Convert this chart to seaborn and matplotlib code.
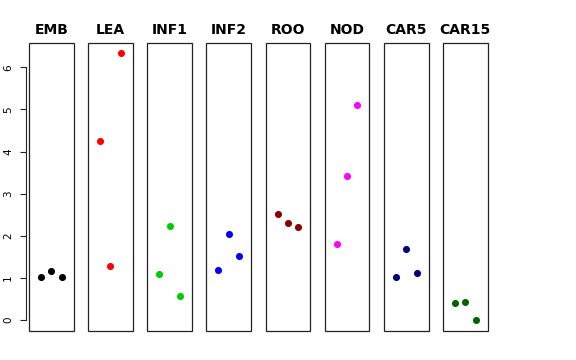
import seaborn as sns
import pandas as pd
import matplotlib
matplotlib.use("Agg")
import matplotlib.pyplot as plt
from matplotlib.patches import Rectangle

tissues = ["EMB", "LEA", "INF1", "INF2", "ROO", "NOD", "CAR5", "CAR15"]
colors = ["#000000", "#FF0000", "#00CD00", "#0000FF", "#8B0000", "#FF00FF", "#000080", "#006400"]
replicate = [1, 2, 3]
values = {
    "EMB": [1.02, 1.17, 1.03],
    "LEA": [4.24, 1.28, 6.33],
    "INF1": [1.09, 2.23, 0.56],
    "INF2": [1.18, 2.04, 1.53],
    "ROO": [2.52, 2.31, 2.22],
    "NOD": [1.80, 3.42, 5.11],
    "CAR5": [1.03, 1.69, 1.12],
    "CAR15": [0.41, 0.43, 0.0],
}

rows = []
for t in tissues:
    for r, v in zip(replicate, values[t]):
        rows.append({"tissue": t, "rep": r, "value": v})
df = pd.DataFrame(rows)

sns.set_style("white")
g = sns.FacetGrid(df, col="tissue", col_order=tissues, hue="tissue", hue_order=tissues,
                  palette=colors, sharey=True, sharex=True, despine=False)
g.map_dataframe(sns.scatterplot, x="rep", y="value", s=26, linewidth=0)
g.figure.set_size_inches(5.76, 3.6)
g.figure.subplots_adjust(left=0.0503, right=0.8467, top=0.8797, bottom=0.0806, wspace=0.324)
g.set(xlim=(-0.16, 4.16), ylim=(-0.26, 6.57))
g.set_titles("{col_name}", fontweight="bold", fontsize=9, pad=6.5, color="black")
g.set_axis_labels("", "")

for i, ax in enumerate(g.axes.flat):
    for sp in ax.spines.values():
        sp.set_visible(False)
    ax.add_patch(Rectangle((0, 0), 1, 1, transform=ax.transAxes, fill=False,
                           edgecolor="#222222", linewidth=0.9, clip_on=False))
    ax.set_xticks([])
    if i == 0:
        ax.spines["left"].set_visible(True)
        ax.spines["left"].set_position(("outward", 2.3))
        ax.spines["left"].set_bounds(0, 6)
        ax.spines["left"].set_color("#222222")
        ax.spines["left"].set_linewidth(0.8)
        ax.set_yticks(range(0, 7))
        ax.tick_params(axis="y", left=True, length=4.5, width=0.8, color="#222222",
                       labelsize=7.5, labelcolor="black", pad=4.5)
        for lab in ax.get_yticklabels():
            lab.set_rotation(90)
            lab.set_va("center")
    else:
        ax.tick_params(axis="y", left=False, labelleft=False)

g.figure.savefig("out.png", dpi=100)
